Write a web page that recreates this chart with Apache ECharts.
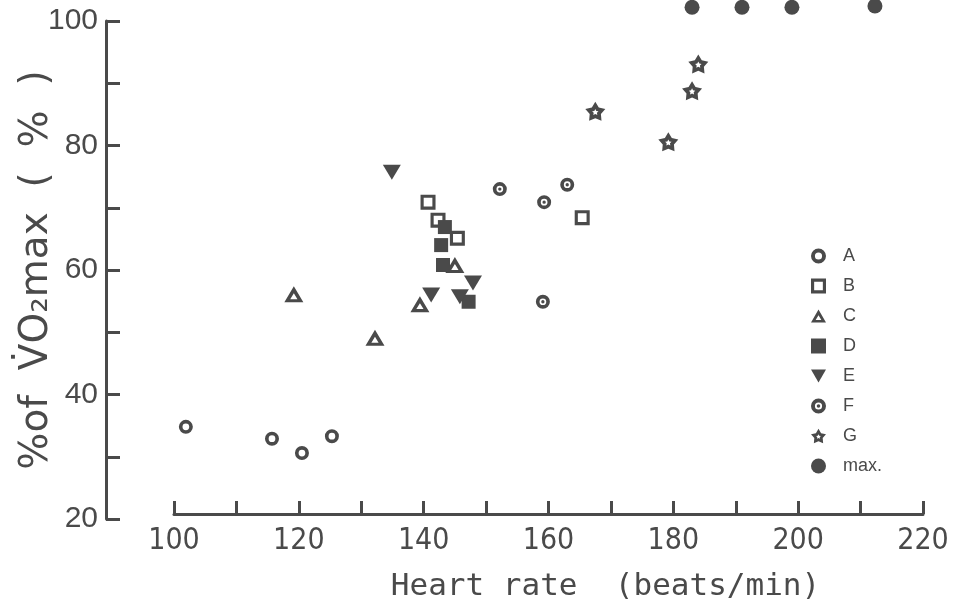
<!DOCTYPE html>
<html>
<head>
<meta charset="utf-8">
<script src="https://cdn.jsdelivr.net/npm/echarts@6/dist/echarts.min.js"></script>
<style>
  html, body { margin: 0; background: #fff; }
  #main { width: 962px; height: 607px; }
</style>
</head>
<body>
<div id="main"></div>
<script>
// values: [heart rate, % of VO2max]
const seriesA = [[101.9, 34.8], [115.7, 32.9], [120.5, 30.6], [125.3, 33.3]];
const seriesB = [[140.7, 70.9], [142.3, 68.0], [145.4, 65.1], [165.4, 68.4]];
const seriesC = [[119.2, 56.1], [132.2, 49.1], [139.4, 54.5], [145.0, 60.8]];
const seriesD = [[143.4, 66.9], [142.8, 64.0], [143.1, 60.8], [147.2, 54.9]];
const seriesE = [[134.9, 75.7], [141.2, 56.0], [145.8, 55.7], [147.9, 57.9]];
const seriesF = [[152.2, 73.0], [159.3, 70.9], [163.0, 73.7], [159.1, 54.9]];
const seriesG = [[167.5, 85.5], [179.2, 80.6], [183.0, 88.8], [184.0, 93.1]];
const seriesMax = [[183.0, 102.2], [191.0, 102.2], [199.0, 102.2], [212.3, 102.4]];
const legendNames = ['A', 'B', 'C', 'D', 'E', 'F', 'G', 'max.'];

const ink = '#4a4a4a';

// open marker shapes: outer outline plus a reversed inner outline leaves a hole
const ringPath = 'path://M50,0 A50,50 0 1,1 50,100 A50,50 0 1,1 50,0 Z M50,26 A24,24 0 1,0 50,74 A24,24 0 1,0 50,26 Z';
const dotRingPath = ringPath + ' M50,38 A12,12 0 1,1 50,62 A12,12 0 1,1 50,38 Z';
const openSquarePath = 'path://M0,0 L100,0 L100,100 L0,100 Z M21,21 L21,79 L79,79 L79,21 Z';
const openTrianglePath = 'path://M50,0 L100,87 L0,87 Z M50,38 L31,70 L69,70 Z';
const downTrianglePath = 'path://M0,0 L100,0 L50,87 Z';

function starPath() {
  let outer = [], inner = [];
  for (let i = 0; i < 10; i++) {
    let a = (-90 + i * 36) * Math.PI / 180;
    let r1 = i % 2 ? 28 : 50;
    let r2 = i % 2 ? 8 : 16;
    outer.push((50 + r1 * Math.cos(a)).toFixed(2) + ',' + (50 + r1 * Math.sin(a)).toFixed(2));
    inner.push((50 + r2 * Math.cos(a)).toFixed(2) + ',' + (50 + r2 * Math.sin(a)).toFixed(2));
  }
  inner.reverse();
  return 'path://M' + outer.join(' L') + ' Z M' + inner.join(' L') + ' Z';
}

function scatter(name, data, symbol, size) {
  return {
    name: name,
    type: 'scatter',
    data: data,
    symbol: symbol,
    symbolSize: size,
    clip: false,
    itemStyle: { color: ink, opacity: 1 },
    emphasis: { disabled: true }
  };
}

const chart = echarts.init(document.getElementById('main'));
chart.setOption({
  backgroundColor: '#fff',
  animation: false,
  grid: { left: 174, right: 39, top: 21, bottom: 88, containLabel: false, outerBoundsMode: 'none' },
  legend: {
    orient: 'vertical',
    left: 806,
    top: 242,
    itemWidth: 15,
    itemHeight: 15,
    itemGap: 12,
    data: legendNames,
    textStyle: { fontFamily: 'Liberation Sans', fontSize: 18, color: ink, padding: [0, 0, 0, 12] }
  },
  xAxis: {
    type: 'value',
    min: 100,
    max: 220,
    interval: 10,
    offset: -5,
    name: 'Heart rate  (beats/min)',
    nameLocation: 'middle',
    nameGap: 57,
    nameTextStyle: { fontFamily: 'DejaVu Sans Mono', fontSize: 31, color: ink, padding: [0, 0, 0, 114] },
    axisLine: { show: true, onZero: false, lineStyle: { color: ink, width: 3 } },
    axisTick: { show: true, inside: true, length: 13, lineStyle: { color: ink, width: 3 } },
    splitLine: { show: false },
    axisLabel: {
      formatter: v => (v % 20 === 0 ? v : ''),
      margin: 12,
      fontFamily: 'DejaVu Sans Condensed, Liberation Sans',
      fontSize: 30,
      color: ink
    }
  },
  yAxis: {
    type: 'value',
    min: 20,
    max: 100,
    interval: 10,
    offset: 68,
    name: '%of  V\u0307O\u2082max  (  %  )',
    nameLocation: 'middle',
    nameGap: 50,
    nameMoveOverlap: false,
    nameTextStyle: { fontFamily: 'DejaVu Sans', fontSize: 39, color: ink },
    axisLine: { show: true, onZero: false, lineStyle: { color: ink, width: 3 } },
    axisTick: { show: true, inside: true, length: 14, lineStyle: { color: ink, width: 3 } },
    splitLine: { show: false },
    axisLabel: {
      formatter: v => (v % 20 === 0 ? v : ''),
      margin: 8,
      fontFamily: 'Liberation Sans',
      fontSize: 30,
      color: ink
    }
  },
  series: [
    scatter('A', seriesA, ringPath, 14),
    scatter('B', seriesB, openSquarePath, 15),
    scatter('C', seriesC, openTrianglePath, [19, 16]),
    scatter('D', seriesD, 'rect', 14),
    scatter('E', seriesE, downTrianglePath, [18, 15]),
    scatter('F', seriesF, dotRingPath, 14),
    scatter('G', seriesG, starPath(), [20, 19]),
    scatter('max.', seriesMax, 'circle', 15)
  ]
});
</script>
</body>
</html>
